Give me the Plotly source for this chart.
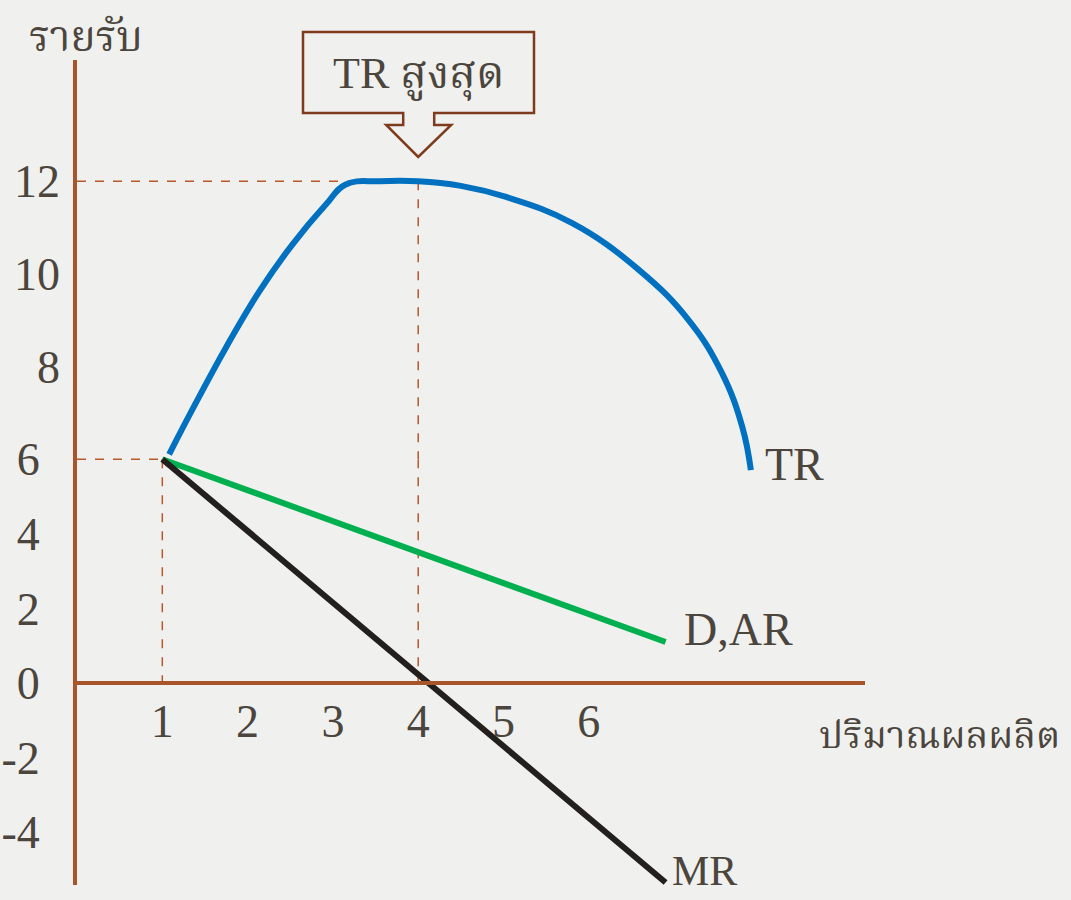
import plotly.graph_objects as go

W, H = 1071, 900

# ---- data -------------------------------------------------------------
# total revenue (TR) against quantity
tr_q = [1.08, 1.35, 1.75, 2.13, 2.52, 2.92, 3.15, 3.55, 4.0, 4.5, 5.03, 5.80, 6.59, 7.17, 7.56, 7.80, 7.90]
tr_r = [6.1, 7.06, 8.42, 9.6, 10.62, 11.5, 11.93, 12.0, 12.0, 11.9, 11.66, 11.10, 10.08, 9.00, 7.86, 6.69, 5.76]
# demand / average revenue
ar_q = [1, 6.9]
ar_r = [6, 1.1]
# marginal revenue
mr_q = [1, 6.9]
mr_r = [6, -5.35]

# guide points
q_start, r_start = 1, 6
q_peak, r_peak = 4, 12

x_ticks = [1, 2, 3, 4, 5, 6]
y_ticks_low = [-4, -2, 0, 2, 4, 6]
y_ticks_high = [8, 10, 12]

# ---- styling ------------------------------------------------------------
BG = "#f0f0ee"
INK = "#4b453d"
AXIS = "#a9552c"
GUIDE = "#b8582b"
BOX = "#7e3b1e"
FONT = "Liberation Serif, Noto Serif Thai, Noto Sans Thai, serif"
FS = 46


def px(x):
    return x / W


def py(y):
    return 1 - y / H


# plot box (pixels): left 77, right 865, top 60, bottom 885
left, right, top, bottom = 77, 865, 60, 885
x_scale = 85.3           # px per quantity unit
low_zero, low_scale = 683, 37.3      # lower revenue scale (<= 6)
hi_six, hi_scale = 459, 46.3         # upper revenue scale (>= 6)

x_range = [0, (right - left) / x_scale]
y_range_low = [-(bottom - low_zero) / low_scale, (low_zero - top) / low_scale]
y_range_high = [6 - (bottom - hi_six) / hi_scale, 6 + (hi_six - top) / hi_scale]

fig = go.Figure()

fig.add_trace(go.Scatter(x=tr_q, y=tr_r, mode="lines", yaxis="y2",
                         line=dict(color="#0070c0", width=6, shape="spline", smoothing=1.2),
                         hoverinfo="skip"))
fig.add_trace(go.Scatter(x=ar_q, y=ar_r, mode="lines",
                         line=dict(color="#00b050", width=6), hoverinfo="skip"))
fig.add_trace(go.Scatter(x=mr_q, y=mr_r, mode="lines",
                         line=dict(color="#231f1c", width=6), hoverinfo="skip"))

# dashed guides
guide = dict(color=GUIDE, width=1.5, dash="dash")
fig.add_shape(type="line", xref="x", yref="y2", x0=0, x1=q_peak, y0=r_peak, y1=r_peak, line=guide, layer="below")
fig.add_shape(type="line", xref="x", yref="y2", x0=q_peak, x1=q_peak, y0=r_peak, y1=6, line=guide, layer="below")
fig.add_shape(type="line", xref="x", yref="y", x0=q_peak, x1=q_peak, y0=6, y1=0, line=guide, layer="below")
fig.add_shape(type="line", xref="x", yref="y", x0=0, x1=q_start, y0=r_start, y1=r_start, line=guide, layer="below")
fig.add_shape(type="line", xref="x", yref="y", x0=q_start, x1=q_start, y0=r_start, y1=0, line=guide, layer="below")

# callout box with down arrow pointing at the TR peak
tip_x = left + q_peak * x_scale
pts = [(303, 113), (303, 32), (534, 32), (534, 113), (tip_x + 16, 113), (tip_x + 16, 125),
       (tip_x + 33, 125), (tip_x, 157), (tip_x - 32, 125), (tip_x - 15, 125), (tip_x - 15, 113)]
path = "M " + " L ".join(f"{px(a):.5f},{py(b):.5f}" for a, b in pts) + " Z"
fig.add_shape(type="path", xref="paper", yref="paper", path=path,
              line=dict(color=BOX, width=2.5), fillcolor=BG)

text_font = dict(family=FONT, size=FS, color=INK)
fig.add_annotation(x=px(418), y=py(75), xref="paper", yref="paper", text="TR สูงสุด",
                   showarrow=False, font=dict(family=FONT, size=44, color=INK),
                   xanchor="center", yanchor="middle")

# curve labels
fig.add_annotation(x=tr_q[-1], y=tr_r[-1], xref="x", yref="y2", text="TR", showarrow=False,
                   font=text_font, xanchor="left", yanchor="middle", xshift=12, yshift=6)
fig.add_annotation(x=ar_q[-1], y=ar_r[-1], xref="x", yref="y", text="D,AR", showarrow=False,
                   font=text_font, xanchor="left", yanchor="middle", xshift=16, yshift=12)
fig.add_annotation(x=mr_q[-1], y=mr_r[-1], xref="x", yref="y", text="MR", showarrow=False,
                   font=dict(family=FONT, size=42, color=INK),
                   xanchor="left", yanchor="middle", xshift=4, yshift=12)

# axis titles
fig.add_annotation(x=px(86), y=py(37), xref="paper", yref="paper", text="รายรับ", showarrow=False,
                   font=dict(family=FONT, size=42, color=INK), xanchor="center", yanchor="middle")
fig.add_annotation(x=px(1062), y=py(735), xref="paper", yref="paper", text="ปริมาณผลผลิต",
                   showarrow=False, font=dict(family=FONT, size=38, color=INK),
                   xanchor="right", yanchor="middle")

tick_font = dict(family=FONT, size=FS, color=INK)
fig.update_layout(
    width=W, height=H, margin=dict(l=0, r=0, t=0, b=0),
    paper_bgcolor=BG, plot_bgcolor=BG, showlegend=False,
    font=dict(family=FONT, color=INK),
    xaxis=dict(domain=[px(left), px(right)], range=x_range, anchor="free",
               position=py(low_zero), showline=True, linecolor=AXIS, linewidth=4,
               showgrid=False, zeroline=False, tickvals=x_ticks,
               ticktext=[str(v) for v in x_ticks], ticks="",
               tickfont=tick_font, ticklabelstandoff=-3, fixedrange=True),
    yaxis=dict(domain=[py(bottom), py(top)], range=y_range_low, anchor="x",
               showline=True, linecolor=AXIS, linewidth=4, showgrid=False, zeroline=False,
               tickvals=y_ticks_low, ticktext=[str(v) for v in y_ticks_low], ticks="",
               tickfont=tick_font, ticklabelstandoff=24, fixedrange=True),
    yaxis2=dict(domain=[py(bottom), py(top)], range=y_range_high, overlaying="y", side="left",
                anchor="x", showline=False, showgrid=False, zeroline=False,
                tickvals=y_ticks_high, ticktext=[str(v) for v in y_ticks_high], ticks="",
                tickfont=tick_font, ticklabelstandoff=16, fixedrange=True),
)

fig.write_html("out.html", config={"displayModeBar": False})
